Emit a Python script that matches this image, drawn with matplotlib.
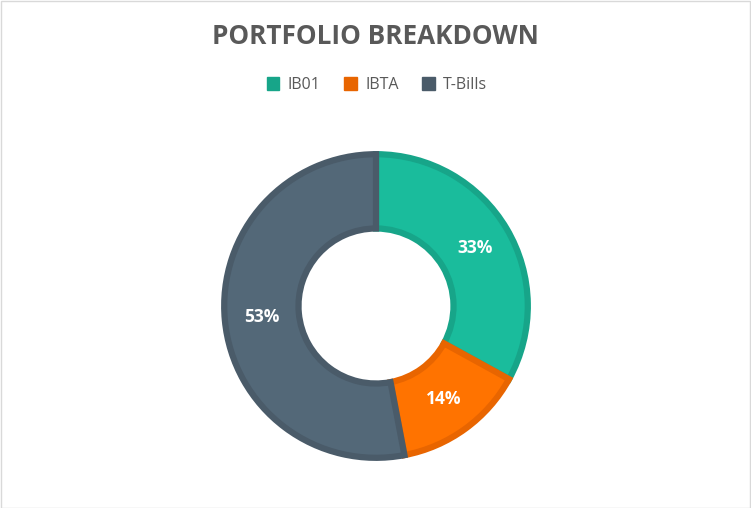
import matplotlib
matplotlib.use("Agg")
import matplotlib.pyplot as plt
from matplotlib.patches import Rectangle, Patch

title = "PORTFOLIO BREAKDOWN"
categories = ["IB01", "IBTA", "T-Bills"]
values = [33, 14, 53]
fill_colors = ["#1ABC9C", "#FF7300", "#536878"]
edge_colors = ["#17A589", "#E86500", "#4A5B69"]

W, H = 751, 508
fig = plt.figure(figsize=(W / 100, H / 100), dpi=100)
fig.patch.set_facecolor("white")
fig.add_artist(Rectangle((0.5 / W, 0.5 / H), 1 - 1.5 / W, 1 - 1.5 / H, transform=fig.transFigure,
                         fill=False, edgecolor="#D9D9D9", linewidth=1))

cx, cy, R = 376, 508 - 306, 155
ax = fig.add_axes([(cx - R) / W, (cy - R) / H, 2 * R / W, 2 * R / H])

r = 1 - 3.2 / R
wedges, texts, autotexts = ax.pie(
    values, colors=fill_colors, startangle=90, counterclock=False, radius=r,
    autopct=lambda p: f"{p:.0f}%", pctdistance=0.755,
    wedgeprops=dict(width=r - 0.5, linewidth=4.5),
    textprops=dict(color="white", fontsize=12.5, fontweight="bold", family="Open Sans"))
for w, ec in zip(wedges, edge_colors):
    w.set_edgecolor(ec)
ax.set_xlim(-1, 1)
ax.set_ylim(-1, 1)
ax.set_aspect("auto")
ax.axis("off")

fig.text(375 / W, 1 - 37 / H, title, ha="center", va="center", fontsize=18.8,
         fontweight="bold", color="#595959", family="Open Sans")

handles = [Patch(facecolor=ec, edgecolor=ec) for ec in edge_colors]
leg = fig.legend(handles, categories, loc="center", bbox_to_anchor=(377 / W, 1 - 85 / H), ncol=3,
                 frameon=False, handlelength=0.8, handleheight=0.8, handletextpad=0.5,
                 columnspacing=1.5, prop=dict(family="Open Sans", size=11.5))
for t in leg.get_texts():
    t.set_color("#595959")

fig.savefig("out.png", dpi=100)
